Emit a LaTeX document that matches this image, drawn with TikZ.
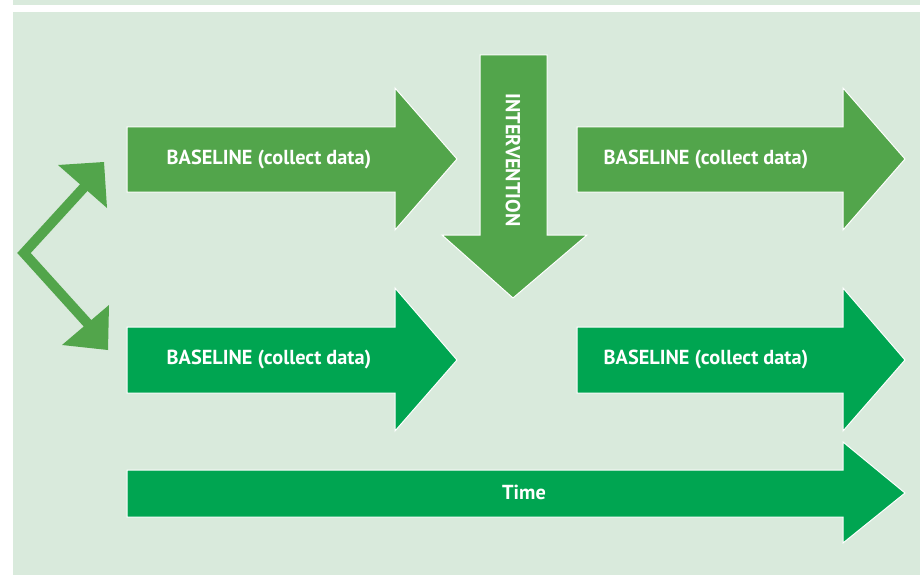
\documentclass[tikz,border=0pt]{standalone}
\usepackage{fontspec}
\setmainfont{PT Sans}
\begin{document}
\begin{tikzpicture}[x=1pt,y=-1pt,
  panel/.style={fill=bgpanel,draw=none},
  uparrow/.style={fill=greenA,draw=white,line width=1pt,line join=miter},
  lowarrow/.style={fill=greenB,draw=white,line width=1pt,line join=miter},
  lbl/.style={text=white,font=\bfseries\fontsize{20.3}{24}\selectfont,inner sep=0pt}]
\definecolor{bgpanel}{HTML}{D9EADC}
\definecolor{greenA}{HTML}{52A54B}
\definecolor{greenB}{HTML}{00A551}
% canvas and panels
\useasboundingbox (0,0) rectangle (923,575);
\fill[white] (0,0) rectangle (923,575);
\fill[panel] (13,0) rectangle (920,5);
\fill[panel] (13,12) rectangle (920,575);
% top row
\draw[uparrow] (127,127) -- (395,127) -- (395,88) -- (457,159) -- (395,230) -- (395,192) -- (127,192) -- cycle;
\node[lbl] (b1) at (269,159) {BASELINE (collect data)};
\draw[uparrow] (577,127) -- (843,127) -- (843,88) -- (905,159) -- (843,230) -- (843,192) -- (577,192) -- cycle;
\node[lbl] (b2) at (706,159) {BASELINE (collect data)};
% bottom row
\draw[lowarrow] (127,327) -- (395,327) -- (395,288) -- (457,360) -- (395,431) -- (395,393) -- (127,393) -- cycle;
\node[lbl] (b3) at (269,359) {BASELINE (collect data)};
\draw[lowarrow] (577,327) -- (843,327) -- (843,288) -- (905,360) -- (843,431) -- (843,393) -- (577,393) -- cycle;
\node[lbl] (b4) at (706,359) {BASELINE (collect data)};
% intervention
\draw[uparrow] (480,55) -- (547,55) -- (547,235) -- (587,235) -- (513,298) -- (442,235) -- (480,235) -- cycle;
\node[lbl,rotate=-90] (iv) at (513,160) {INTERVENTION};
% time
\draw[lowarrow] (127,470) -- (843,470) -- (843,442) -- (905,493) -- (843,543) -- (843,517) -- (127,517) -- cycle;
\node[lbl] (tm) at (524,492) {Time};
% split arrow
\coordinate (v) at (24,253);
\coordinate (ua) at (88,183);
\coordinate (la) at (90,326);
\draw[greenA,line width=10pt,line join=miter,line cap=butt] (ua) -- (v) -- (la);
\fill[greenA] (58,165) -- (104,162) -- (107,208) -- cycle;
\fill[greenA] (109,305) -- (108,350) -- (62,345) -- cycle;
\end{tikzpicture}
\end{document}
